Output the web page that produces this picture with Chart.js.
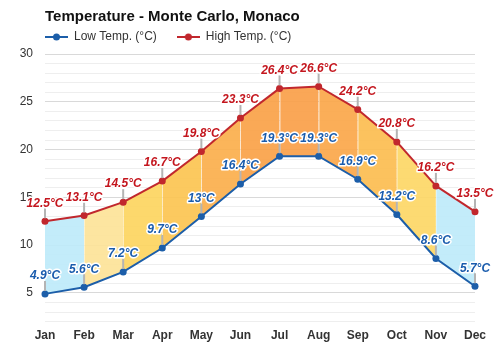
<!DOCTYPE html>
<html>
<head>
<meta charset="utf-8">
<script src="https://cdn.jsdelivr.net/npm/chart.js@4/dist/chart.umd.min.js"></script>
<style>
  html, body { margin: 0; padding: 0; background: #fff; }
  canvas { display: block; }
</style>
</head>
<body>
<canvas id="chart" width="500" height="350"></canvas>
<script>
// Chart data
const months = ['Jan', 'Feb', 'Mar', 'Apr', 'May', 'Jun', 'Jul', 'Aug', 'Sep', 'Oct', 'Nov', 'Dec'];
const lowTemps = [4.9, 5.6, 7.2, 9.7, 13, 16.4, 19.3, 19.3, 16.9, 13.2, 8.6, 5.7];
const highTemps = [12.5, 13.1, 14.5, 16.7, 19.8, 23.3, 26.4, 26.6, 24.2, 20.8, 16.2, 13.5];
const yTicks = [5, 10, 15, 20, 25, 30];

// Band colour for each month-to-month segment
const SEGMENT_COLORS = [
    'rgba(188, 234, 250, 0.9)',
    'rgba(253, 226, 150, 0.9)',
    'rgba(253, 212, 92, 0.9)',
    'rgba(252, 195, 78, 0.9)',
    'rgba(251, 173, 72, 0.9)',
    'rgba(249, 160, 68, 0.9)',
    'rgba(249, 157, 69, 0.9)',
    'rgba(251, 165, 70, 0.9)',
    'rgba(252, 187, 76, 0.9)',
    'rgba(253, 214, 99, 0.9)',
    'rgba(188, 234, 250, 0.9)'
];

const FONT = "'Liberation Sans', Arial, sans-serif";
const LOW_COLOR = '#1c5ea9';
const HIGH_COLOR = '#c1272d';
const LOW_LABEL = '#1a5cad';
const HIGH_LABEL = '#c4161e';

/**
 * Legend icon: short line with a dot in the middle
 */
function makeIcon(color) {
    const c = document.createElement('canvas');
    c.width = 23;
    c.height = 10;
    const g = c.getContext('2d');
    g.strokeStyle = color;
    g.lineWidth = 2;
    g.beginPath();
    g.moveTo(0, 5);
    g.lineTo(23, 5);
    g.stroke();
    g.fillStyle = color;
    g.beginPath();
    g.arc(11.5, 5, 3.5, 0, Math.PI * 2);
    g.fill();
    return c;
}
const legendIcons = [makeIcon(LOW_COLOR), makeIcon(HIGH_COLOR)];

// Value labels with a small grey stem down to the point
const valueLabels = {
    id: 'valueLabels',
    afterDatasetsDraw(chart) {
        const ctx = chart.ctx;
        const low = chart.getDatasetMeta(0).data;
        const high = chart.getDatasetMeta(1).data;

        ctx.save();
        // faint month dividers inside the band
        ctx.strokeStyle = 'rgba(255, 255, 255, 0.35)';
        ctx.lineWidth = 1;
        for (let i = 1; i < months.length - 1; i++) {
            ctx.beginPath();
            ctx.moveTo(Math.round(high[i].x) + 0.5, high[i].y + 4);
            ctx.lineTo(Math.round(low[i].x) + 0.5, low[i].y - 4);
            ctx.stroke();
        }

        ctx.strokeStyle = '#b4b4b4';
        ctx.lineWidth = 2;
        [low, high].forEach(points => {
            points.forEach(p => {
                ctx.beginPath();
                ctx.moveTo(p.x, p.y - 3);
                ctx.lineTo(p.x, p.y - 13);
                ctx.stroke();
            });
        });

        ctx.font = 'italic bold 12px ' + FONT;
        ctx.textAlign = 'center';
        ctx.textBaseline = 'middle';
        ctx.lineJoin = 'round';
        const sets = [[low, lowTemps, LOW_LABEL], [high, highTemps, HIGH_LABEL]];
        sets.forEach(([points, values, color]) => {
            points.forEach((p, i) => {
                const text = values[i] + '°C';
                ctx.strokeStyle = '#fff';
                ctx.lineWidth = 3;
                ctx.strokeText(text, p.x, p.y - 18);
                ctx.fillStyle = color;
                ctx.fillText(text, p.x, p.y - 18);
            });
        });
        ctx.restore();
    }
};

// Place legend row under the title, aligned with the plot
const legendPlacer = {
    id: 'legendPlacer',
    afterLayout(chart) {
        chart.legend.top = 11;
        chart.legend.left = chart.chartArea.left - 20;
    }
};

new Chart(document.getElementById('chart'), {
    type: 'line',
    data: {
        labels: months,
        datasets: [{
            label: 'Low Temp. (°C)',
            data: lowTemps,
            borderColor: LOW_COLOR,
            backgroundColor: LOW_COLOR,
            borderWidth: 2,
            pointRadius: 3.5,
            pointBorderWidth: 0,
            pointBackgroundColor: LOW_COLOR,
            tension: 0,
            fill: false
        }, {
            label: 'High Temp. (°C)',
            data: highTemps,
            borderColor: HIGH_COLOR,
            backgroundColor: HIGH_COLOR,
            borderWidth: 2,
            pointRadius: 3.5,
            pointBorderWidth: 0,
            pointBackgroundColor: HIGH_COLOR,
            tension: 0,
            fill: '-1',
            segment: {
                backgroundColor: ctx => SEGMENT_COLORS[ctx.p0DataIndex]
            }
        }]
    },
    options: {
        responsive: false,
        animation: false,
        layout: {
            padding: { left: 0, right: 25, top: 0, bottom: 0 }
        },
        plugins: {
            title: {
                display: true,
                text: 'Temperature - Monte Carlo, Monaco',
                align: 'start',
                fullSize: false,
                color: '#111',
                font: { family: FONT, size: 15, weight: 'bold' },
                padding: { top: 7.5, bottom: 0 }
            },
            legend: {
                display: true,
                align: 'start',
                fullSize: false,
                maxHeight: 28.5,
                labels: {
                    usePointStyle: true,
                    pointStyleWidth: 23,
                    padding: 20,
                    color: '#333',
                    font: { family: FONT, size: 12 },
                    generateLabels(chart) {
                        const items = Chart.defaults.plugins.legend.labels.generateLabels(chart);
                        items.forEach((item, i) => { item.pointStyle = legendIcons[i]; });
                        return items;
                    }
                }
            },
            tooltip: { enabled: false }
        },
        scales: {
            x: {
                offset: false,
                grid: { display: false, drawTicks: false },
                border: { display: false },
                ticks: {
                    color: '#333',
                    padding: 7,
                    maxRotation: 0,
                    font: { family: FONT, size: 12, weight: 'bold' }
                }
            },
            y: {
                min: 2,
                max: 30,
                afterFit(scale) {
                    scale.width = 45;
                },
                grid: {
                    drawTicks: false,
                    lineWidth: 1,
                    color: ctx => yTicks.includes(ctx.tick.value) ? '#d9d9d9' : '#eeeeee'
                },
                border: { display: false },
                ticks: {
                    stepSize: 1,
                    autoSkip: false,
                    padding: 12,
                    color: '#333',
                    font: { family: FONT, size: 12 },
                    callback: v => yTicks.includes(v) ? v : ''
                }
            }
        }
    },
    plugins: [valueLabels, legendPlacer]
});
</script>
</body>
</html>
